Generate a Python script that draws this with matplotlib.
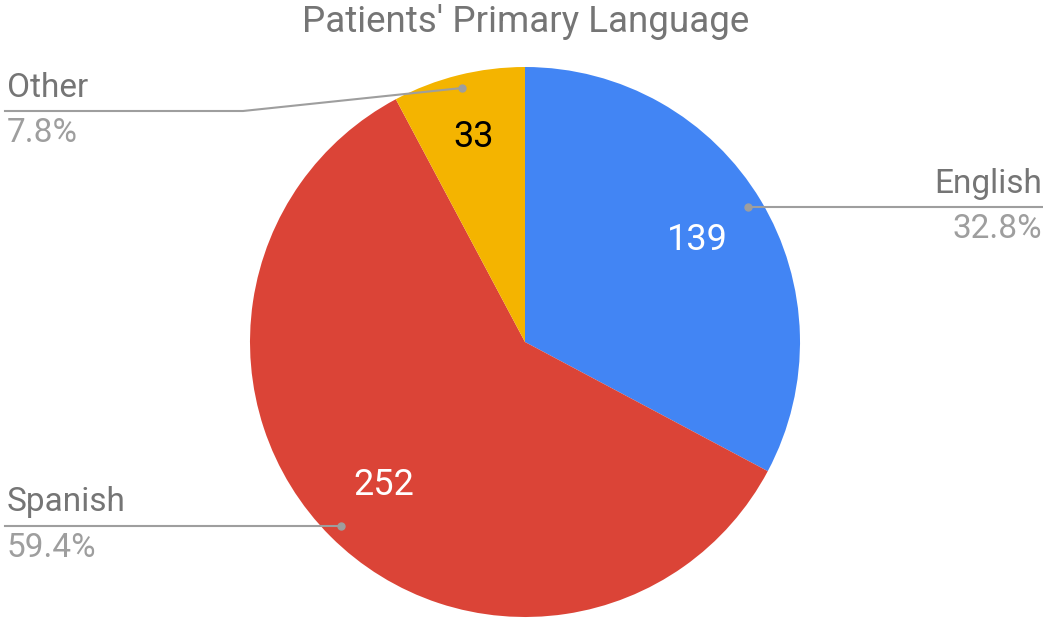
import numpy as np
import matplotlib.pyplot as plt

plt.rcParams['font.family'] = ['Roboto', 'DejaVu Sans']

labels = ['English', 'Spanish', 'Other']
counts = [139, 252, 33]
colors = ['#4285F4', '#DB4437', '#F4B400']
value_colors = ['white', 'white', 'black']

W, H = 1043, 618


def Y(y):
    # pixel row (from top) -> data y
    return H - y


fig = plt.figure(figsize=(W / 100, H / 100), dpi=100)
ax = fig.add_axes([0, 0, 1, 1])

cx, cy, r = 525, Y(342), 275
wedges, _ = ax.pie(counts, colors=colors, startangle=90, counterclock=False,
                   center=(cx, cy), radius=r, frame=True,
                   wedgeprops=dict(linewidth=0))
ax.set_xlim(0, W)
ax.set_ylim(0, H)
ax.axis('off')

total = sum(counts)
pcts = ['%.1f%%' % (100 * c / total) for c in counts]

# value labels inside slices
val_pos = [(697, 240), (384, 485), (474, 137)]
for (x, y), c, col in zip(val_pos, counts, value_colors):
    ax.text(x, Y(y), str(c), color=col, fontsize=26, ha='center', va='center')

line_col = '#9E9E9E'
fs = 24
# leader lines: English
ax.plot([748, W], [Y(207), Y(207)], color=line_col, lw=1.5)
ax.plot(748, Y(207), 'o', color=line_col, ms=5)
ax.text(1042, Y(184), labels[0], color='#757575', fontsize=fs, ha='right', va='center')
ax.text(1042, Y(229), pcts[0], color='#9E9E9E', fontsize=fs, ha='right', va='center')

# Spanish
ax.plot([341, 5], [Y(526), Y(526)], color=line_col, lw=1.5)
ax.plot(341, Y(526), 'o', color=line_col, ms=5)
ax.text(7, Y(502), labels[1], color='#757575', fontsize=fs, ha='left', va='center')
ax.text(7, Y(548), pcts[1], color='#9E9E9E', fontsize=fs, ha='left', va='center')

# Other
ax.plot([462, 243, 5], [Y(88), Y(111), Y(111)], color=line_col, lw=1.5)
ax.plot(462, Y(88), 'o', color=line_col, ms=5)
ax.text(7, Y(88), labels[2], color='#757575', fontsize=fs, ha='left', va='center')
ax.text(7, Y(133), pcts[2], color='#9E9E9E', fontsize=fs, ha='left', va='center')

ax.text(526, Y(22), "Patients' Primary Language", color='#757575', fontsize=26.5,
        ha='center', va='center')

fig.savefig('out.png', dpi=100)
